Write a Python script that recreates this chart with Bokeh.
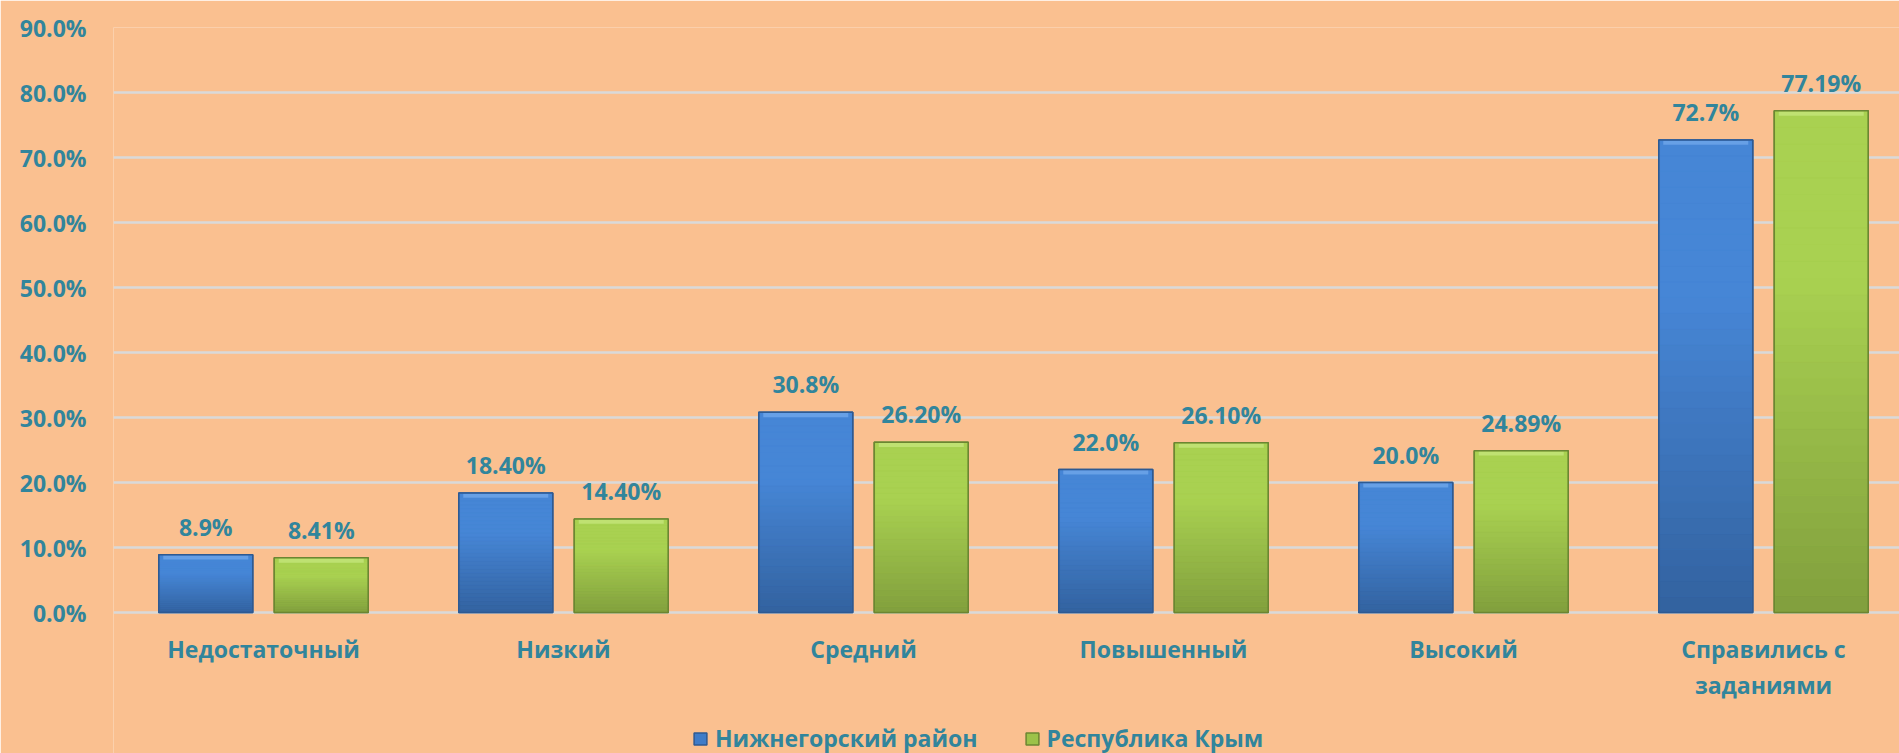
from bokeh.plotting import figure
from bokeh.models import (Range1d, FixedTicker, PrintfTickFormatter, Legend, LegendItem,
                          ColumnDataSource)
from bokeh.embed import file_html
from bokeh.resources import INLINE
from bokeh.core.properties import value

categories = ["Недостаточный", "Низкий", "Средний", "Повышенный", "Высокий",
              "Справились с\nзаданиями"]
series_names = ["Нижнегорский район", "Республика Крым"]
district = [8.9, 18.4, 30.8, 22.0, 20.0, 72.7]
crimea = [8.41, 14.4, 26.2, 26.1, 24.89, 77.19]
district_labels = ["8.9%", "18.40%", "30.8%", "22.0%", "20.0%", "72.7%"]
crimea_labels = ["8.41%", "14.40%", "26.20%", "26.10%", "24.89%", "77.19%"]
y_ticks = [0, 10, 20, 30, 40, 50, 60, 70, 80, 90]

BG = "#FAC090"
TXT = "#31859C"
FONT = "Open Sans"
FS = "23px"

# colours: (top, bottom, outline, mid, highlight)
blue = ("#4686D6", "#33629F", "#2E5A92", "#3F7CC8", "#6FA6EA")
green = ("#A9D151", "#819F3D", "#6B8632", "#9CC249", "#C4E57A")

W, H = 1899, 753
left, top, zero_y = 113, 27, 612
frame_w = W - left
px_per_cat = 300.0
px_per_unit = (zero_y - top) / 90.0
y_start = -(H - zero_y) / px_per_unit
off = 0.1925
bw = 94 / px_per_cat

p = figure(width=W, height=H, output_backend="svg", toolbar_location=None,
           x_range=Range1d(0, frame_w / px_per_cat), y_range=Range1d(y_start, 90),
           min_border_left=left, min_border_right=0, min_border_top=top,
           min_border_bottom=0)
p.background_fill_color = BG
p.border_fill_color = BG
p.outline_line_color = None
p.xgrid.grid_line_color = None
p.ygrid.grid_line_color = "#D9D9D9"
p.ygrid.grid_line_width = 2.5
p.yaxis.ticker = FixedTicker(ticks=y_ticks)
p.yaxis.formatter = PrintfTickFormatter(format="%.1f%%")

centers = [i + 0.5 for i in range(len(categories))]
p.xaxis.ticker = FixedTicker(ticks=centers)
p.xaxis.major_label_overrides = {c: lab for c, lab in zip(centers, categories)}
p.xaxis.fixed_location = 0

for ax in (p.xaxis[0], p.yaxis[0]):
    ax.axis_line_color = None
    ax.major_tick_line_color = None
    ax.minor_tick_line_color = None
    ax.major_tick_out = 0
    ax.major_tick_in = 0
    ax.major_label_text_font = FONT
    ax.major_label_text_font_style = "bold"
    ax.major_label_text_font_size = FS
    ax.major_label_text_color = TXT
p.yaxis.major_label_standoff = 27
p.xaxis.major_label_standoff = 20
p.xaxis.major_label_text_line_height = 1.14


def lerp(c1, c2, t):
    a = [int(c1[i:i + 2], 16) for i in (1, 3, 5)]
    b = [int(c2[i:i + 2], 16) for i in (1, 3, 5)]
    return "#%02x%02x%02x" % tuple(round(a[k] + (b[k] - a[k]) * t) for k in range(3))


legend_renderers = []
for vals, labels, cols, sign in ((district, district_labels, blue, -1),
                                  (crimea, crimea_labels, green, 1)):
    xs = [c + sign * off for c in centers]
    base = p.vbar(x=xs, top=vals, bottom=0, width=bw, fill_color=cols[3],
                  line_color=cols[2], line_width=1.5)
    legend_renderers.append(base)
    # vertical gradient slices
    n = 30
    sx, st, sb, sc = [], [], [], []
    for x, v in zip(xs, vals):
        for k in range(n):
            sx.append(x)
            sb.append(v * k / n)
            st.append(v * (k + 1) / n)
            frac = (k + 0.5) / n
            sc.append(lerp(cols[1], cols[0], min(1.0, frac * 1.5)))
    p.vbar(x=sx, top=st, bottom=sb, width=bw - 0.006, fill_color=sc, line_color=sc,
           line_width=0.5)
    # top highlight
    p.vbar(x=xs, top=[v - 0.12 for v in vals], bottom=[v - 0.75 for v in vals],
           width=bw - 0.03, fill_color=cols[4], line_color=None, fill_alpha=0.8)
    # outline
    p.vbar(x=xs, top=vals, bottom=0, width=bw, fill_alpha=0, line_color=cols[2],
           line_width=1.5)
    src = ColumnDataSource(dict(x=xs, y=vals, t=labels))
    p.text(x="x", y="y", text="t", source=src, y_offset=-28, text_align="center",
           text_baseline="middle", text_font=value(FONT), text_font_style="bold",
           text_font_size=FS, text_color=TXT)

legend = Legend(items=[LegendItem(label=series_names[0], renderers=[legend_renderers[0]]),
                       LegendItem(label=series_names[1], renderers=[legend_renderers[1]])],
                location=(579, -1), orientation="horizontal")
legend.background_fill_alpha = 0
legend.border_line_color = None
legend.padding = 0
legend.margin = 0
legend.glyph_width = 16
legend.glyph_height = 15
legend.label_standoff = 7
legend.spacing = 46
legend.label_height = 24
legend.label_text_font = FONT
legend.label_text_font_style = "bold"
legend.label_text_font_size = FS
legend.label_text_color = TXT
p.add_layout(legend, "center")

open("out.html", "w").write(file_html(p, INLINE))
